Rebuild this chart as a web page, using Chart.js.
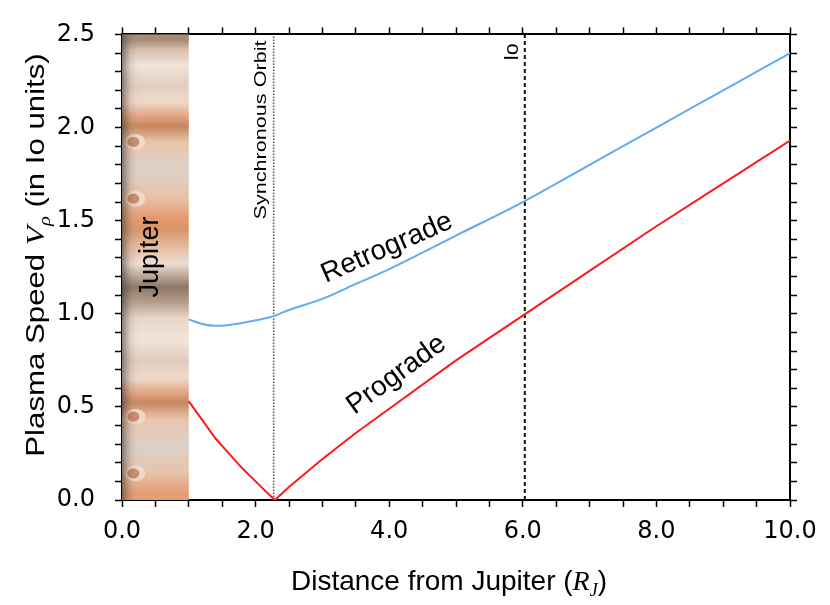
<!DOCTYPE html>
<html>
<head>
<meta charset="utf-8">
<title>Plasma speed vs distance from Jupiter</title>
<script src="https://cdn.jsdelivr.net/npm/chart.js@4.4.1/dist/chart.umd.min.js"></script>
<style>
    body { margin: 0; background: #fff; }
    #wrap { width: 830px; height: 605px; }
</style>
</head>
<body>
<div id="wrap"><canvas id="speedChart" width="830" height="605"></canvas></div>
<script>
// Values
const distance   = [1.0, 1.2, 1.4, 1.6, 1.8, 2.0, 2.2, 2.29, 2.5, 3.0, 3.5, 4.0, 5.0, 6.0, 7.0, 8.0, 9.0, 10.0];
const prograde   = [0.53, 0.43, 0.33, 0.25, 0.17, 0.10, 0.03, 0.0, 0.07, 0.22, 0.36, 0.49, 0.75, 0.99, 1.23, 1.47, 1.70, 1.93];
const retrograde = [0.97, 0.945, 0.935, 0.94, 0.95, 0.965, 0.98, 0.99, 1.02, 1.08, 1.16, 1.24, 1.42, 1.60, 1.80, 2.00, 2.20, 2.40];

const syncOrbit = 2.27;   // R_J
const ioOrbit = 6.03;     // R_J
const jupiterRadius = 1.0;

const xRange = [0, 10];
const yRange = [0, 2.5];
const xLabelEvery = 2;
const yLabelEvery = 0.5;

const seriesLabels = ['Retrograde', 'Prograde'];

// Build point lists
function toPoints(xs, ys) {
    return xs.map((x, i) => ({ x: x, y: ys[i] }));
}

// Jupiter strip: bands as percent of plot height (top -> bottom)
const jupiterBands = [
    [0, 2.4, '#a68b77'], [2.4, 4.5, '#d9c0ad'], [4.5, 8.8, '#f1e4d9'], [8.8, 13.1, '#e2cdbf'],
    [13.1, 16.0, '#eedacb'], [16.0, 19.2, '#e3a37e'], [19.2, 20.2, '#c6865f'], [20.2, 26.3, '#e8c5ad'],
    [26.3, 32.0, '#ddd1c7'], [32.0, 38.1, '#e7c2a9'], [38.1, 40.3, '#e49c71'], [40.3, 43.8, '#d8956b'],
    [43.8, 46.4, '#e4b697'], [46.4, 52.1, '#ecded2'], [52.1, 56.4, '#8e7666'], [56.4, 58.5, '#b59c89'],
    [58.5, 63.5, '#e8d6c8'], [63.5, 67.8, '#f0e4d9'], [67.8, 72.1, '#e0cbbd'], [72.1, 75.7, '#eed9c9'],
    [75.7, 78.5, '#e3a37e'], [78.5, 79.6, '#c6865f'], [79.6, 85.7, '#e8c5ad'], [85.7, 91.4, '#ddd1c7'],
    [91.4, 97.1, '#e7c2a9'], [97.1, 100, '#e49c71']
];
const jupiterSpots = [23.1, 35.3, 82.1, 94.3];

const jupiterPlugin = {
    id: 'jupiterStrip',
    beforeDatasetsDraw(chart) {
        const { ctx, chartArea, scales } = chart;
        const x0 = scales.x.getPixelForValue(0);
        const x1 = scales.x.getPixelForValue(jupiterRadius);
        const top = chartArea.top, h = chartArea.bottom - chartArea.top;

        ctx.save();
        const grad = ctx.createLinearGradient(0, top, 0, top + h);
        jupiterBands.forEach(b => {
            grad.addColorStop(((b[0] + b[1]) / 2) / 100, b[2]);
        });
        ctx.fillStyle = grad;
        ctx.fillRect(x0, top, x1 - x0, h);

        // red spots
        jupiterSpots.forEach(p => {
            const cy = top + h * p / 100;
            const cx = x0 + (x1 - x0) * 0.17;
            ctx.fillStyle = 'rgba(240,222,208,0.8)';
            ctx.beginPath();
            ctx.ellipse(cx + 2, cy, 10, 8, 0, 0, Math.PI * 2);
            ctx.fill();
            ctx.fillStyle = 'rgba(196,125,87,0.85)';
            ctx.beginPath();
            ctx.ellipse(cx, cy, 6, 5, 0, 0, Math.PI * 2);
            ctx.fill();
        });

        // limb darkening on the left
        const limb = ctx.createLinearGradient(x0, 0, x1, 0);
        limb.addColorStop(0, 'rgba(55,50,45,0.55)');
        limb.addColorStop(0.12, 'rgba(90,80,70,0.15)');
        limb.addColorStop(0.3, 'rgba(255,255,255,0)');
        limb.addColorStop(1, 'rgba(255,255,255,0)');
        ctx.fillStyle = limb;
        ctx.fillRect(x0, top, x1 - x0, h);
        ctx.restore();
    }
};

// Draw a run of text pieces along a rotated baseline, centred on (cx, cy)
function drawRich(ctx, parts, cx, cy, angle, stretch) {
    ctx.save();
    ctx.translate(cx, cy);
    ctx.rotate(angle);
    ctx.scale(stretch || 1, 1);
    let total = 0;
    parts.forEach(p => { ctx.font = p.font; p.w = ctx.measureText(p.text).width; total += p.w; });
    let x = -total / 2;
    ctx.textBaseline = 'alphabetic';
    ctx.textAlign = 'left';
    ctx.fillStyle = '#000';
    parts.forEach(p => {
        ctx.font = p.font;
        ctx.fillText(p.text, x, p.dy || 0);
        x += p.w;
    });
    ctx.restore();
}

const textPlugin = {
    id: 'figureText',
    afterDraw(chart) {
        const { ctx, scales } = chart;
        const sans = 'Liberation Sans, Arial, sans-serif';
        const serif = 'Liberation Serif, Times New Roman, serif';

        // y title
        drawRich(ctx, [
            { text: 'Plasma Speed ', font: '26px ' + sans },
            { text: 'V', font: 'italic 26px ' + serif },
            { text: 'ρ', font: 'italic 17px ' + serif, dy: 6 },
            { text: ' (in Io units)', font: '26px ' + sans }
        ], 44, 255, -Math.PI / 2, 1.2);

        // x title
        drawRich(ctx, [
            { text: 'Distance from Jupiter (', font: '28px ' + sans },
            { text: 'R', font: 'italic 28px ' + serif },
            { text: 'J', font: 'italic 18px ' + serif, dy: 6 },
            { text: ')', font: '28px ' + sans }
        ], 449, 590, 0, 1);

        // curve labels
        drawRich(ctx, [{ text: seriesLabels[0], font: '28px ' + sans }], 390, 255, -0.41, 1);
        drawRich(ctx, [{ text: seriesLabels[1], font: '28px ' + sans }], 401, 381, -0.63, 1);

        // Jupiter label
        const xj = scales.x.getPixelForValue(jupiterRadius * 0.5);
        drawRich(ctx, [{ text: 'Jupiter', font: '27px ' + sans }], xj + 3, 257, -Math.PI / 2, 1);

        // orbit labels
        const xs = scales.x.getPixelForValue(syncOrbit);
        drawRich(ctx, [{ text: 'Synchronous Orbit', font: '16px ' + sans }], xs - 8, 130, -Math.PI / 2, 1.35);
        const xi = scales.x.getPixelForValue(ioOrbit);
        drawRich(ctx, [{ text: 'Io', font: '21px ' + sans }], xi - 7, 52, -Math.PI / 2, 1);
    }
};

const tickFont = { family: 'DejaVu Sans', size: 24 };
const gridStyle = { drawOnChartArea: false, tickLength: 7, tickColor: '#000', tickWidth: 1.5 };
const borderStyle = { color: '#000', width: 2 };

function xTickLabel(v) {
    const r = Math.round(v * 10) / 10;
    return Math.abs(r / xLabelEvery - Math.round(r / xLabelEvery)) < 1e-6 ? r.toFixed(1) : '';
}
function yTickLabel(v) {
    const r = Math.round(v * 10) / 10;
    return Math.abs(r / yLabelEvery - Math.round(r / yLabelEvery)) < 1e-6 ? r.toFixed(1) : '';
}

const ctx = document.getElementById('speedChart').getContext('2d');
new Chart(ctx, {
    type: 'line',
    data: {
        datasets: [
            {
                label: seriesLabels[0],
                data: toPoints(distance, retrograde),
                borderColor: '#63aaf0',
                borderWidth: 2,
                pointRadius: 0,
                cubicInterpolationMode: 'monotone'
            },
            {
                label: seriesLabels[1],
                data: toPoints(distance, prograde),
                borderColor: '#ff1a1a',
                borderWidth: 2,
                pointRadius: 0,
                tension: 0
            },
            {
                label: 'Synchronous Orbit',
                data: [{ x: syncOrbit, y: yRange[0] }, { x: syncOrbit, y: yRange[1] }],
                borderColor: '#555',
                borderWidth: 1.5,
                borderDash: [1.5, 1.5],
                pointRadius: 0
            },
            {
                label: 'Io',
                data: [{ x: ioOrbit, y: yRange[0] }, { x: ioOrbit, y: yRange[1] }],
                borderColor: '#111',
                borderWidth: 2,
                borderDash: [4, 3],
                pointRadius: 0
            }
        ]
    },
    options: {
        responsive: false,
        animation: false,
        layout: { padding: 0 },
        plugins: {
            legend: { display: false },
            tooltip: { enabled: false }
        },
        scales: {
            x: {
                type: 'linear', position: 'bottom', min: xRange[0], max: xRange[1],
                afterFit: s => { s.height = 105; },
                ticks: { stepSize: 0.5, autoSkip: false, maxRotation: 0, padding: 10, color: '#000', font: tickFont, callback: xTickLabel },
                grid: gridStyle, border: borderStyle
            },
            x2: {
                type: 'linear', position: 'top', min: xRange[0], max: xRange[1],
                afterFit: s => { s.height = 34; },
                ticks: { stepSize: 0.5, autoSkip: false, maxRotation: 0, callback: () => '' },
                grid: gridStyle, border: borderStyle
            },
            y: {
                type: 'linear', position: 'left', min: yRange[0], max: yRange[1],
                afterFit: s => { s.width = 122; },
                ticks: { stepSize: 0.1, autoSkip: false, padding: 20, color: '#000', font: tickFont, callback: yTickLabel },
                grid: gridStyle, border: borderStyle
            },
            y2: {
                type: 'linear', position: 'right', min: yRange[0], max: yRange[1],
                afterFit: s => { s.width = 40; },
                ticks: { stepSize: 0.1, autoSkip: false, callback: () => '' },
                grid: gridStyle, border: borderStyle
            }
        }
    },
    plugins: [jupiterPlugin, textPlugin]
});
</script>
</body>
</html>
